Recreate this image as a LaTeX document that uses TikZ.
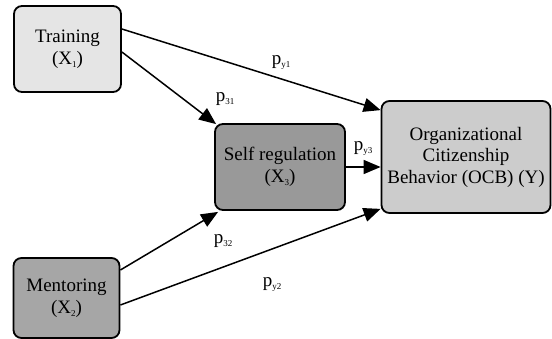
\documentclass[tikz,border=0pt]{standalone}
\usepackage{fontspec}
\setmainfont{Liberation Serif}
\usetikzlibrary{arrows.meta,calc}
\newcommand{\lowsub}[1]{\raisebox{-3pt}{\fontsize{9}{9}\selectfont #1}}
\tikzset{
  box/.style={draw=black, line width=1.8pt, rounded corners=8pt, align=center,
    inner sep=0pt, font=\fontsize{19}{21.5}\selectfont},
  link/.style={line width=1.5pt, -{Triangle[length=17pt,width=14pt]}},
  plabel/.style={inner sep=0pt, font=\fontsize{19}{21.5}\selectfont}
}
\begin{document}
\begin{tikzpicture}[x=1pt,y=-1pt]
\useasboundingbox (0,0) rectangle (552,339);
\node[box, fill=black!10, minimum width=107pt, minimum height=86pt] (T) at (67.5,49) {Training\\(X\lowsub{1})};
\node[box, fill=black!40, minimum width=130pt, minimum height=86pt] (S) at (280,167) {Self regulation\\(X\lowsub{3})};
\node[box, fill=black!20, minimum width=169pt, minimum height=112pt] (O) at (466,157) {Organizational\\Citizenship\\Behavior (OCB) (Y)};
\node[box, fill=black!35, minimum width=106pt, minimum height=80pt] (M) at (66.5,298) {Mentoring\\(X\lowsub{2})};

\draw[link] ($(T.east)+(0,-20)$) -- ($(O.north west)+(0,10)$);
\draw[link] ($(T.east)+(0,3)$) -- ($(S.north west)+(2,1)$);
\draw[link] (S.east) -- (S.east -| O.west);
\draw[link] ($(M.east)+(0,-28)$) -- ($(S.south west)+(4,1)$);
\draw[link] ($(M.east)+(0,7)$) -- ($(O.south west)+(0,-5)$);

\node[plabel] (py1) at (281,62) {p\lowsub{y1}};
\node[plabel] (p31) at (225,99) {p\lowsub{31}};
\node[plabel] (py3) at (363,148) {p\lowsub{y3}};
\node[plabel] (p32) at (223,241) {p\lowsub{32}};
\node[plabel] (py2) at (272,284) {p\lowsub{y2}};
\end{tikzpicture}
\end{document}
